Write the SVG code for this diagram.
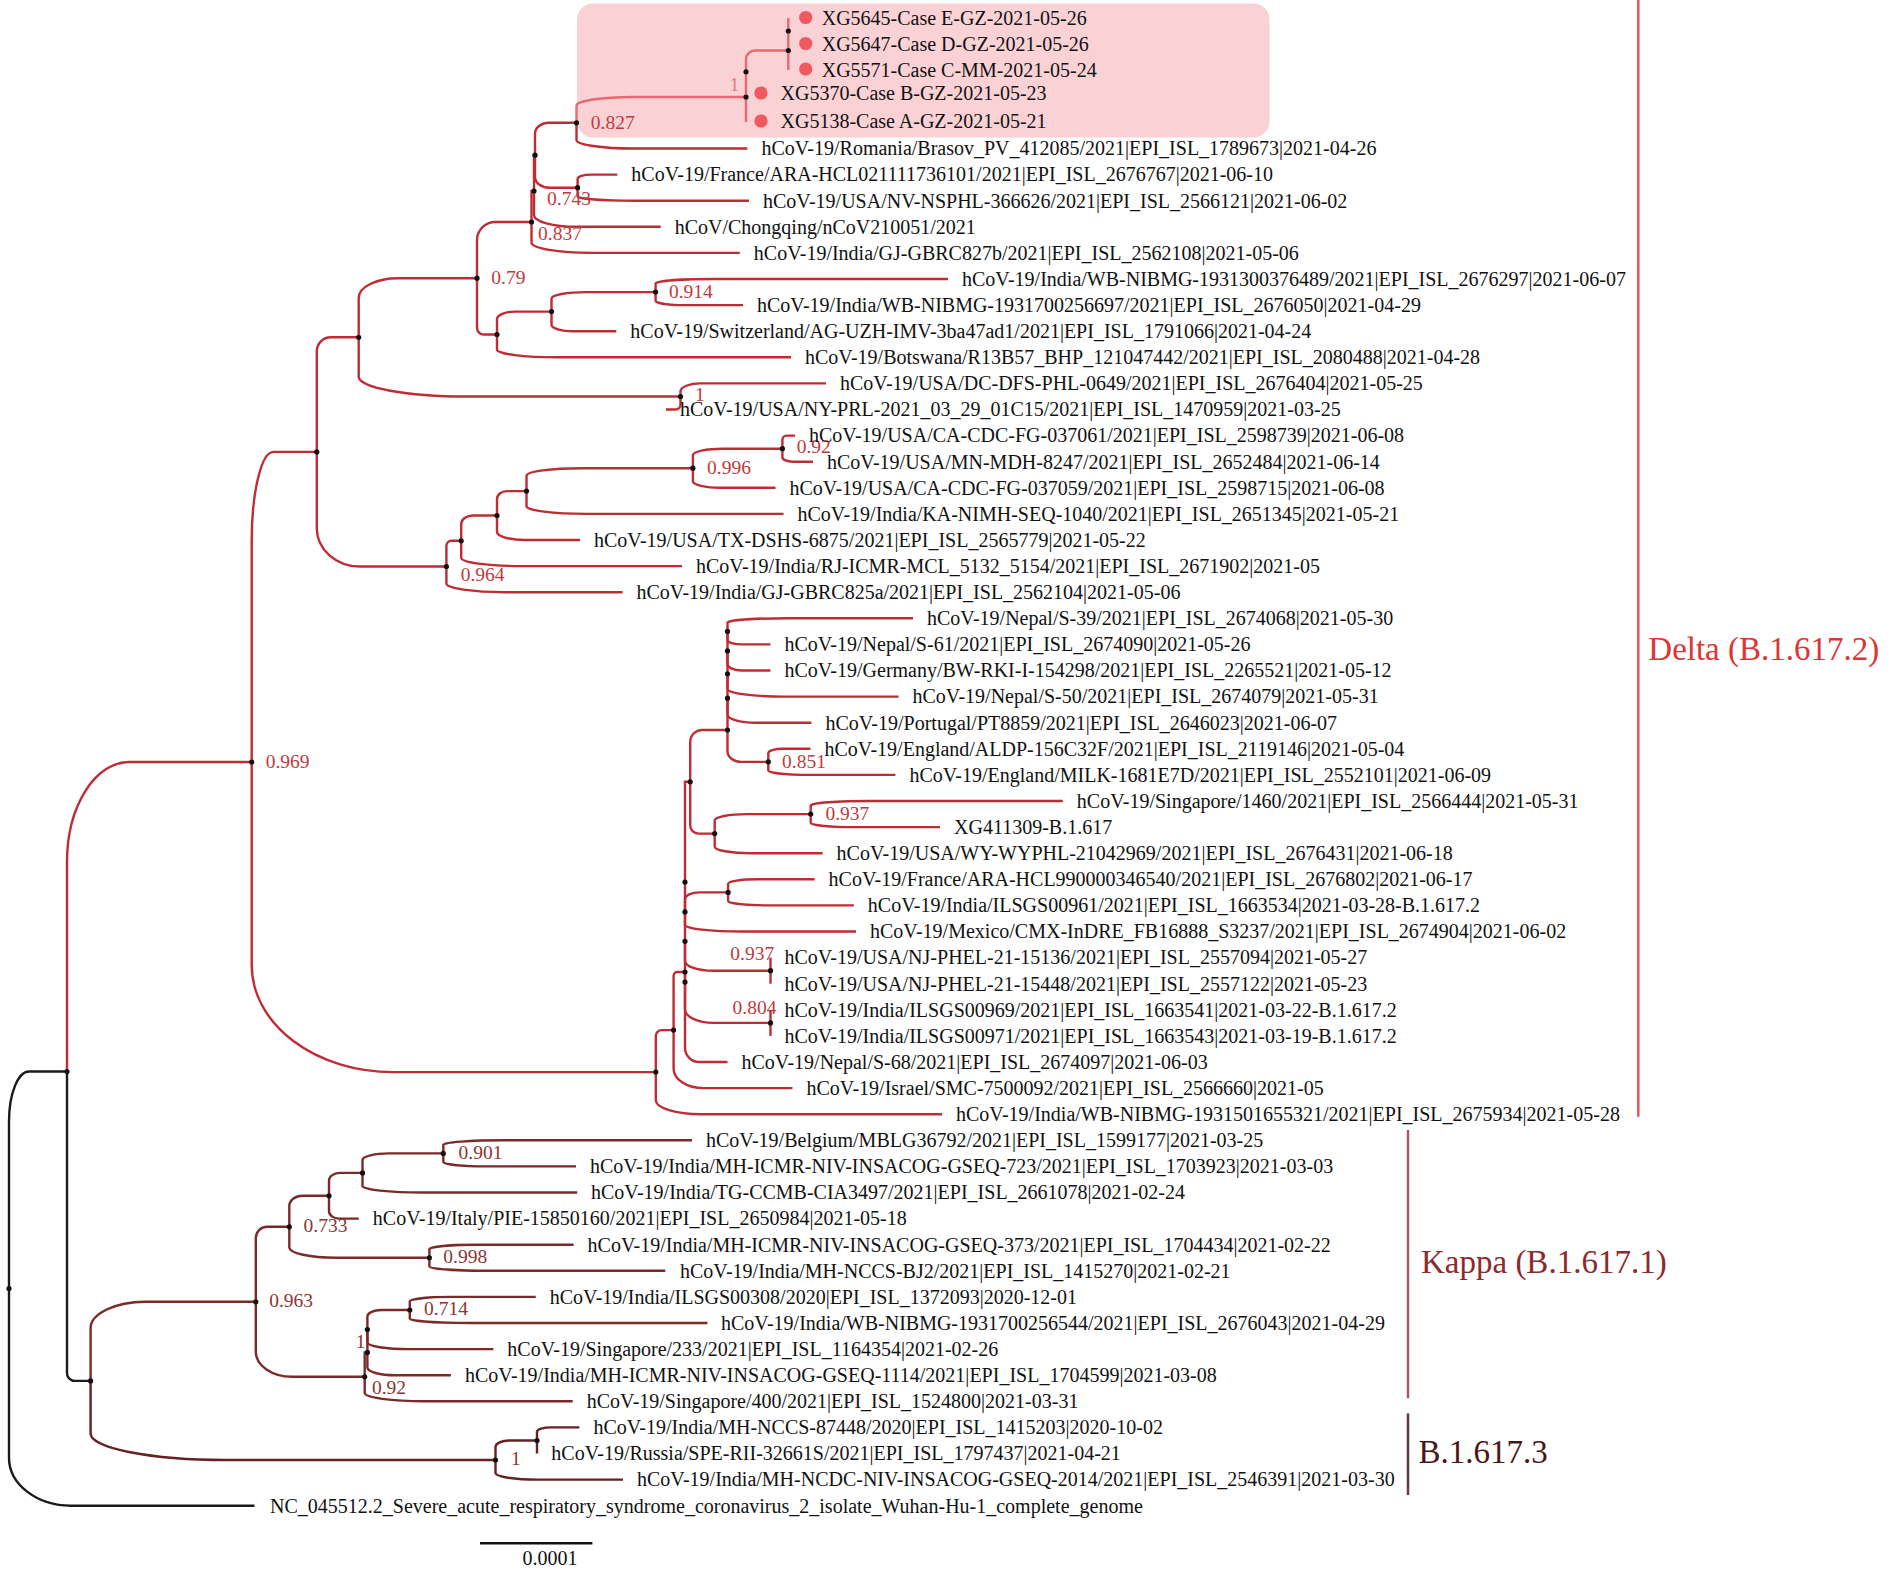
<svg xmlns="http://www.w3.org/2000/svg" width="1890" height="1571" viewBox="0 0 1890 1571">
<style>
text{font-family:"Liberation Serif","Times New Roman",serif}
.t{font-size:20px;fill:#111}
.bs{font-size:19.5px;fill:#c03a3d}
.bl{font-size:19.5px;fill:#e27a7f}
.bk{font-size:19.5px;fill:#8a3535}
.br{fill:none;stroke-width:2.4}
.d{stroke:#bf2c33}
.h{stroke:#ea6870}
.k{stroke:#7b2a2a}
.k3{stroke:#652222}
.r{stroke:#1a1a1a}
.nd{fill:#111}
.case{fill:#f05a5e}
.cl{font-size:33px}
</style>
<rect width="1890" height="1571" fill="#fff"/>
<g id="highlight"><rect x="577" y="3.5" width="692.5" height="134" rx="16" fill="#fad2d5"/></g>
<g id="connectors" class="br">
<g class="r">
<path d="M9 1288.6V1121.5A20 50 0 0 1 29 1071.5H67"/>
<path d="M9 1288.6V1457.7A62 48 0 0 0 71 1505.7H254.5"/>
<path d="M67 1071.5V1372.9A8 8 0 0 0 75 1380.9H90.6"/>
</g>
<g class="d">
<path d="M67 1071.5V862A62 100 0 0 1 129 762H251.7"/>
<path d="M251.7 762V540.9A21.7 89 0 0 1 273.4 451.9H316.8"/>
<path d="M251.7 762V965.1A141 107 0 0 0 392.7 1072.1H655.8"/>
<path d="M316.8 451.9V351.3A14 14 0 0 1 330.8 337.3H358.7"/>
<path d="M316.8 451.9V528.3A43.2 38.2 0 0 0 360 566.5H446.4"/>
<path d="M358.7 337.3V297.9A39.4 19.7 0 0 1 398.1 278.2H477"/>
<path d="M358.7 337.3V376.8A107.3 19.7 0 0 0 466 396.5H680.5"/>
<path d="M477 278.2V240.2A18.2 18.2 0 0 1 495.2 222H531.5"/>
<path d="M477 278.2V327.8A6.7 6.7 0 0 0 483.7 334.5H497"/>
<path d="M531.5 222V191H534"/>
<path d="M531.5 222V242.6A60 10.3 0 0 0 591.5 252.9H739.8"/>
<path d="M534 191V155.2H535"/>
<path d="M534 191V214.9A42.2 11.9 0 0 0 576.2 226.8H660.7"/>
<path d="M535 155.2V133.6A13.8 10.8 0 0 1 548.8 122.8H576.5"/>
<path d="M535 155.2V176.9A14.2 10.8 0 0 0 549.2 187.7H577.6"/>
<path d="M576.5 122.8V139.9A57 8.6 0 0 0 633.5 148.5H747.4"/>
<path d="M577.6 187.7V179A13.2 4.4 0 0 1 590.8 174.6H617.3"/>
<path d="M577.6 187.7V196.4A57.1 4.4 0 0 0 634.7 200.7H749"/>
<path d="M497 334.5V319.2A18.2 7.6 0 0 1 515.2 311.6H551.5"/>
<path d="M497 334.5V349.7A60 7.6 0 0 0 557 357.3H791"/>
<path d="M551.5 311.6V298.6A34.7 6.5 0 0 1 586.2 292.1H655.6"/>
<path d="M551.5 311.6V324.7A21.6 6.5 0 0 0 573.1 331.2H616.3"/>
<path d="M655.6 292.1V283.4A60 4.4 0 0 1 715.6 279H948"/>
<path d="M655.6 292.1V300.8A29.1 4.4 0 0 0 684.7 305.1H743"/>
<path d="M680.5 396.5V391.4A20 8 0 0 1 700.5 383.4H826"/>
<path d="M680.5 396.5V404.5A5 5 0 0 1 675.5 409.5H666"/>
<path d="M446.4 566.5V545.7A4.9 4.9 0 0 1 451.3 540.8H461.2"/>
<path d="M446.4 566.5V583.6A58.7 8.6 0 0 0 505.1 592.2H622.5"/>
<path d="M461.2 540.8V523.9A11.9 8.4 0 0 1 473.1 515.5H497"/>
<path d="M461.2 540.8V557.7A60 8.4 0 0 0 521.2 566.1H682"/>
<path d="M497 515.5V499.3A9.8 8.2 0 0 1 506.8 491.1H526.5"/>
<path d="M497 515.5V531.8A27.7 8.2 0 0 0 524.7 540H580"/>
<path d="M526.5 491.1V475.8A55.5 7.6 0 0 1 582 468.2H692.9"/>
<path d="M526.5 491.1V506.3A60 7.6 0 0 0 586.5 513.9H783.5"/>
<path d="M692.9 468.2V455.2A29.8 6.5 0 0 1 722.7 448.7H782.4"/>
<path d="M692.9 468.2V481.3A27.5 6.5 0 0 0 720.4 487.8H775.5"/>
<path d="M782.4 448.7V439.8A4.2 4.2 0 0 1 786.6 435.6H795"/>
<path d="M782.4 448.7V457.4A10.2 4.4 0 0 0 792.6 461.7H813"/>
<path d="M655.8 1072.1V1036A5.9 5.9 0 0 1 661.7 1030.1H673.6"/>
<path d="M655.8 1072.1V1100.2A45 14 0 0 0 700.8 1114.2H942"/>
<path d="M673.6 1030.1V975.8A3.8 3.8 0 0 1 677.4 972H685"/>
<path d="M673.6 1030.1V1068.8A30 19.3 0 0 0 703.6 1088.1H792.5"/>
<path d="M685 972V1047.8A14.2 14.2 0 0 0 699.2 1062H727.5"/>
<path d="M690.2 781.8H685V982.1"/>
<path d="M685 982.1V1009.3A28.5 13.6 0 0 0 713.5 1022.9H770.5"/>
<path d="M685 941.3V960.9A28.5 9.8 0 0 0 713.5 970.7H770.5"/>
<path d="M685 911.9V898.9A14.4 6.5 0 0 1 699.4 892.4H728.1"/>
<path d="M685 911.9V925A57 6.5 0 0 0 742 931.5H856"/>
<path d="M728.1 892.4V883.7A28.8 4.4 0 0 1 756.9 879.3H814.6"/>
<path d="M728.1 892.4V901.1A41.9 4.4 0 0 0 770 905.4H853.8"/>
<path d="M770.5 957.6V983.7"/>
<path d="M770.5 1009.8V1035.9"/>
<path d="M690.2 781.8V742A12 12 0 0 1 702.2 730H727.5"/>
<path d="M690.2 781.8V825.4A8.2 8.2 0 0 0 698.4 833.6H714.7"/>
<path d="M714.7 833.6V820.6A32 6.5 0 0 1 746.7 814.1H810.7"/>
<path d="M714.7 833.6V846.7A36 6.5 0 0 0 750.7 853.2H822.6"/>
<path d="M810.7 814.1V805.4A60 4.4 0 0 1 870.7 801H1062.8"/>
<path d="M810.7 814.1V822.8A43.1 4.4 0 0 0 853.8 827.1H940"/>
<path d="M727.5 631.4V730"/>
<path d="M727.5 730V751.3A13.6 10.6 0 0 0 741.1 761.9H768.3"/>
<path d="M727.5 698.2V714.5A28 8.2 0 0 0 755.5 722.7H811.4"/>
<path d="M727.5 673.8V689A57 7.6 0 0 0 784.5 696.6H898.5"/>
<path d="M727.5 650.9V664A14.3 6.5 0 0 0 741.8 670.5H770.4"/>
<path d="M727.5 631.4V622.7A60 4.4 0 0 1 787.5 618.3H913"/>
<path d="M727.5 631.4V640.1A14.3 4.4 0 0 0 741.8 644.4H770.4"/>
<path d="M768.3 761.9V753.2A14.1 4.4 0 0 1 782.4 748.8H810.5"/>
<path d="M768.3 761.9V770.6A42.4 4.4 0 0 0 810.7 774.9H895.4"/>
</g>
<g class="h">
<path d="M576.5 122.8V105.6A56.5 8.6 0 0 1 633 97H746"/>
<path d="M746 122V59.5A9 9 0 0 1 755 50.5H788.3"/>
<path d="M788.3 18V70"/>
</g>
<g class="k">
<path d="M90.6 1380.9V1328.2A55.1 26.4 0 0 1 145.7 1301.8H255.8"/>
<path d="M255.8 1301.8V1238A11.2 11.2 0 0 1 267 1226.8H289.3"/>
<path d="M255.8 1301.8V1351.8A36.3 25 0 0 0 292.1 1376.8H364.7"/>
<path d="M289.3 1226.8V1206.1A13.2 10.3 0 0 1 302.5 1195.8H329"/>
<path d="M289.3 1226.8V1247.5A46.7 10.3 0 0 0 336 1257.8H429.4"/>
<path d="M329 1195.8V1180.5A11.2 7.6 0 0 1 340.2 1172.9H362.5"/>
<path d="M329 1195.8V1211A9.9 7.6 0 0 0 338.9 1218.6H358.8"/>
<path d="M362.5 1172.9V1159.9A26.9 6.5 0 0 1 389.4 1153.4H443.3"/>
<path d="M362.5 1172.9V1186A60 6.5 0 0 0 422.5 1192.5H577.2"/>
<path d="M443.3 1153.4V1144.7A60 4.4 0 0 1 503.3 1140.3H692"/>
<path d="M443.3 1153.4V1162.1A44.2 4.4 0 0 0 487.5 1166.4H576"/>
<path d="M429.4 1257.8V1249.1A48.1 4.4 0 0 1 477.5 1244.7H573.6"/>
<path d="M429.4 1257.8V1266.5A60 4.4 0 0 0 489.4 1270.8H665.3"/>
<path d="M364.7 1376.8V1352.4H367.4V1329.5"/>
<path d="M364.7 1376.8V1393.1A60 8.2 0 0 0 424.7 1401.3H572.7"/>
<path d="M367.4 1352.4V1367.6A27.8 7.6 0 0 0 395.2 1375.2H450.9"/>
<path d="M367.4 1329.5V1316.5A14.1 6.5 0 0 1 381.5 1310H409.8"/>
<path d="M367.4 1329.5V1342.6A42 6.5 0 0 0 409.4 1349.1H493.3"/>
<path d="M409.8 1310V1301.3A42 4.4 0 0 1 451.8 1296.9H535.7"/>
<path d="M409.8 1310V1318.7A60 4.4 0 0 0 469.8 1323H707.4"/>
</g>
<g class="k3">
<path d="M90.6 1380.9V1433.6A135 26.4 0 0 0 225.6 1460H495.5"/>
<path d="M495.5 1460V1447A13.8 6.5 0 0 1 509.3 1440.5H537"/>
<path d="M495.5 1460V1473.1A42.5 6.5 0 0 0 538 1479.6H623"/>
<path d="M537 1440.5V1431.8A14.1 4.4 0 0 1 551.1 1427.4H579.4"/>
<path d="M537 1440.5V1453.5"/>
</g>
</g>
<g id="nodes">
<g id="n-root"><circle class="nd" cx="9" cy="1288.6" r="2.6"/></g>
<g id="n-top"><circle class="nd" cx="67" cy="1071.5" r="2.6"/></g>
<g id="n-delta"><circle class="nd" cx="251.7" cy="762" r="2.6"/><text class="bs" x="265.7" y="768">0.969</text></g>
<g id="n-b"><circle class="nd" cx="316.8" cy="451.9" r="2.6"/></g>
<g id="n-a"><circle class="nd" cx="358.7" cy="337.3" r="2.6"/></g>
<g id="n-079"><circle class="nd" cx="477" cy="278.2" r="2.6"/><text class="bs" x="491.3" y="284">0.79</text></g>
<g id="n-x3"><circle class="nd" cx="531.5" cy="222" r="2.6"/><text class="bs" x="538" y="240">0.837</text></g>
<g id="n-x2"><circle class="nd" cx="534" cy="191" r="2.6"/><text class="bs" x="547" y="205">0.743</text></g>
<g id="n-x1"><circle class="nd" cx="535" cy="155.2" r="2.6"/></g>
<g id="n-0827"><circle class="nd" cx="576.5" cy="122.8" r="2.6"/><text class="bs" x="590.8" y="129">0.827</text></g>
<g id="n-case1"><circle class="nd" cx="746" cy="97" r="2.6"/><text class="bl" x="729.5" y="91">1</text></g>
<g id="n-case1a"><circle class="nd" cx="746" cy="71.8" r="2.6"/></g>
<g id="n-cased"><circle class="nd" cx="788.3" cy="50.5" r="2.6"/></g>
<g id="n-casee"><circle class="nd" cx="788.3" cy="31" r="2.6"/></g>
<g id="n-frnv"><circle class="nd" cx="577.6" cy="187.7" r="2.6"/></g>
<g id="n-bw"><circle class="nd" cx="497" cy="334.5" r="2.6"/></g>
<g id="n-sw"><circle class="nd" cx="551.5" cy="311.6" r="2.6"/></g>
<g id="n-914"><circle class="nd" cx="655.6" cy="292.1" r="2.6"/><text class="bs" x="668.9" y="298">0.914</text></g>
<g id="n-dcny"><circle class="nd" cx="680.5" cy="396.5" r="2.6"/><text class="bs" x="695" y="401">1</text></g>
<g id="n-964"><circle class="nd" cx="446.4" cy="566.5" r="2.6"/><text class="bs" x="460.7" y="581">0.964</text></g>
<g id="n-rj"><circle class="nd" cx="461.2" cy="540.8" r="2.6"/></g>
<g id="n-tx"><circle class="nd" cx="497" cy="515.5" r="2.6"/></g>
<g id="n-ka"><circle class="nd" cx="526.5" cy="491.1" r="2.6"/></g>
<g id="n-996"><circle class="nd" cx="692.9" cy="468.2" r="2.6"/><text class="bs" x="707" y="474">0.996</text></g>
<g id="n-092"><circle class="nd" cx="782.4" cy="448.7" r="2.6"/><text class="bs" x="796.7" y="453">0.92</text></g>
<g id="n-w"><circle class="nd" cx="655.8" cy="1072.1" r="2.6"/></g>
<g id="n-v"><circle class="nd" cx="673.6" cy="1030.1" r="2.6"/></g>
<g id="n-r"><circle class="nd" cx="685" cy="972" r="2.6"/></g>
<g id="n-q4"><circle class="nd" cx="685" cy="882" r="2.6"/></g>
<g id="n-q3"><circle class="nd" cx="685" cy="982.1" r="2.6"/></g>
<g id="n-q2"><circle class="nd" cx="685" cy="941.3" r="2.6"/></g>
<g id="n-q1"><circle class="nd" cx="685" cy="911.9" r="2.6"/></g>
<g id="n-frin"><circle class="nd" cx="728.1" cy="892.4" r="2.6"/></g>
<g id="n-nj"><circle class="nd" cx="770.5" cy="970.7" r="2.6"/><text class="bs" x="730.3" y="960">0.937</text></g>
<g id="n-804"><circle class="nd" cx="770.5" cy="1022.9" r="2.6"/><text class="bs" x="732.6" y="1014">0.804</text></g>
<g id="n-u"><circle class="nd" cx="690.2" cy="781.8" r="2.6"/></g>
<g id="n-t"><circle class="nd" cx="714.7" cy="833.6" r="2.6"/></g>
<g id="n-sg"><circle class="nd" cx="810.7" cy="814.1" r="2.6"/><text class="bs" x="825.4" y="820">0.937</text></g>
<g id="n-ce"><circle class="nd" cx="727.5" cy="730" r="2.6"/></g>
<g id="n-cd"><circle class="nd" cx="727.5" cy="698.2" r="2.6"/></g>
<g id="n-cc"><circle class="nd" cx="727.5" cy="673.8" r="2.6"/></g>
<g id="n-cb"><circle class="nd" cx="727.5" cy="650.9" r="2.6"/></g>
<g id="n-ca"><circle class="nd" cx="727.5" cy="631.4" r="2.6"/></g>
<g id="n-eng"><circle class="nd" cx="768.3" cy="761.9" r="2.6"/><text class="bs" x="782" y="768">0.851</text></g>
<g id="n-k0"><circle class="nd" cx="90.6" cy="1380.9" r="2.6"/></g>
<g id="n-963"><circle class="nd" cx="255.8" cy="1301.8" r="2.6"/><text class="bk" x="269.2" y="1307">0.963</text></g>
<g id="n-733"><circle class="nd" cx="289.3" cy="1226.8" r="2.6"/><text class="bk" x="303.6" y="1232">0.733</text></g>
<g id="n-it"><circle class="nd" cx="329" cy="1195.8" r="2.6"/></g>
<g id="n-tg"><circle class="nd" cx="362.5" cy="1172.9" r="2.6"/></g>
<g id="n-901"><circle class="nd" cx="443.3" cy="1153.4" r="2.6"/><text class="bk" x="458.5" y="1159">0.901</text></g>
<g id="n-998"><circle class="nd" cx="429.4" cy="1257.8" r="2.6"/><text class="bk" x="443.3" y="1263">0.998</text></g>
<g id="n-092k"><circle class="nd" cx="364.7" cy="1376.8" r="2.6"/><text class="bk" x="371.9" y="1394">0.92</text></g>
<g id="n-1114"><circle class="nd" cx="367.4" cy="1352.4" r="2.6"/></g>
<g id="n-s233"><circle class="nd" cx="367.4" cy="1329.5" r="2.6"/><text class="bk" x="355.8" y="1348">1</text></g>
<g id="n-714"><circle class="nd" cx="409.8" cy="1310" r="2.6"/><text class="bk" x="424" y="1315">0.714</text></g>
<g id="n-b3"><circle class="nd" cx="495.5" cy="1460" r="2.6"/><text class="bk" x="511" y="1465">1</text></g>
<g id="n-ru"><circle class="nd" cx="537" cy="1440.5" r="2.6"/></g>
</g>
<g id="leaves" class="t">
<g id="leaf-XG5645"><circle class="case" cx="805.7" cy="17.5" r="6.6"/><text class="t" x="821.7" y="24.8">XG5645-Case E-GZ-2021-05-26</text></g>
<g id="leaf-XG5647"><circle class="case" cx="805.7" cy="43.5" r="6.6"/><text class="t" x="821.7" y="50.8">XG5647-Case D-GZ-2021-05-26</text></g>
<g id="leaf-XG5571"><circle class="case" cx="805.7" cy="69" r="6.6"/><text class="t" x="821.7" y="76.8">XG5571-Case C-MM-2021-05-24</text></g>
<g id="leaf-XG5370"><circle class="case" cx="761" cy="93" r="6.6"/><text class="t" x="780.5" y="99.8">XG5370-Case B-GZ-2021-05-23</text></g>
<g id="leaf-XG5138"><circle class="case" cx="761" cy="121" r="6.6"/><text class="t" x="780.5" y="128.3">XG5138-Case A-GZ-2021-05-21</text></g>
<g id="leaf-06"><text class="t" x="761.4" y="155.3">hCoV-19/Romania/Brasov_PV_412085/2021|EPI_ISL_1789673|2021-04-26</text></g>
<g id="leaf-07"><text class="t" x="631.3" y="181.4">hCoV-19/France/ARA-HCL021111736101/2021|EPI_ISL_2676767|2021-06-10</text></g>
<g id="leaf-08"><text class="t" x="763" y="207.5">hCoV-19/USA/NV-NSPHL-366626/2021|EPI_ISL_2566121|2021-06-02</text></g>
<g id="leaf-09"><text class="t" x="674.7" y="233.6">hCoV/Chongqing/nCoV210051/2021</text></g>
<g id="leaf-10"><text class="t" x="753.8" y="259.7">hCoV-19/India/GJ-GBRC827b/2021|EPI_ISL_2562108|2021-05-06</text></g>
<g id="leaf-11"><text class="t" x="962" y="285.8">hCoV-19/India/WB-NIBMG-1931300376489/2021|EPI_ISL_2676297|2021-06-07</text></g>
<g id="leaf-12"><text class="t" x="757" y="311.9">hCoV-19/India/WB-NIBMG-1931700256697/2021|EPI_ISL_2676050|2021-04-29</text></g>
<g id="leaf-13"><text class="t" x="630.3" y="338">hCoV-19/Switzerland/AG-UZH-IMV-3ba47ad1/2021|EPI_ISL_1791066|2021-04-24</text></g>
<g id="leaf-14"><text class="t" x="805" y="364.1">hCoV-19/Botswana/R13B57_BHP_121047442/2021|EPI_ISL_2080488|2021-04-28</text></g>
<g id="leaf-15"><text class="t" x="840" y="390.2">hCoV-19/USA/DC-DFS-PHL-0649/2021|EPI_ISL_2676404|2021-05-25</text></g>
<g id="leaf-16"><text class="t" x="680" y="416.3">hCoV-19/USA/NY-PRL-2021_03_29_01C15/2021|EPI_ISL_1470959|2021-03-25</text></g>
<g id="leaf-17"><text class="t" x="809" y="442.4">hCoV-19/USA/CA-CDC-FG-037061/2021|EPI_ISL_2598739|2021-06-08</text></g>
<g id="leaf-18"><text class="t" x="827" y="468.5">hCoV-19/USA/MN-MDH-8247/2021|EPI_ISL_2652484|2021-06-14</text></g>
<g id="leaf-19"><text class="t" x="789.5" y="494.6">hCoV-19/USA/CA-CDC-FG-037059/2021|EPI_ISL_2598715|2021-06-08</text></g>
<g id="leaf-20"><text class="t" x="797.5" y="520.7">hCoV-19/India/KA-NIMH-SEQ-1040/2021|EPI_ISL_2651345|2021-05-21</text></g>
<g id="leaf-21"><text class="t" x="594" y="546.8">hCoV-19/USA/TX-DSHS-6875/2021|EPI_ISL_2565779|2021-05-22</text></g>
<g id="leaf-22"><text class="t" x="696" y="572.9">hCoV-19/India/RJ-ICMR-MCL_5132_5154/2021|EPI_ISL_2671902|2021-05</text></g>
<g id="leaf-23"><text class="t" x="636.5" y="599">hCoV-19/India/GJ-GBRC825a/2021|EPI_ISL_2562104|2021-05-06</text></g>
<g id="leaf-24"><text class="t" x="927" y="625.1">hCoV-19/Nepal/S-39/2021|EPI_ISL_2674068|2021-05-30</text></g>
<g id="leaf-25"><text class="t" x="784.4" y="651.2">hCoV-19/Nepal/S-61/2021|EPI_ISL_2674090|2021-05-26</text></g>
<g id="leaf-26"><text class="t" x="784.4" y="677.3">hCoV-19/Germany/BW-RKI-I-154298/2021|EPI_ISL_2265521|2021-05-12</text></g>
<g id="leaf-27"><text class="t" x="912.5" y="703.4">hCoV-19/Nepal/S-50/2021|EPI_ISL_2674079|2021-05-31</text></g>
<g id="leaf-28"><text class="t" x="825.4" y="729.5">hCoV-19/Portugal/PT8859/2021|EPI_ISL_2646023|2021-06-07</text></g>
<g id="leaf-29"><text class="t" x="824.5" y="755.6">hCoV-19/England/ALDP-156C32F/2021|EPI_ISL_2119146|2021-05-04</text></g>
<g id="leaf-30"><text class="t" x="909.4" y="781.7">hCoV-19/England/MILK-1681E7D/2021|EPI_ISL_2552101|2021-06-09</text></g>
<g id="leaf-31"><text class="t" x="1076.8" y="807.8">hCoV-19/Singapore/1460/2021|EPI_ISL_2566444|2021-05-31</text></g>
<g id="leaf-32"><text class="t" x="954" y="833.9">XG411309-B.1.617</text></g>
<g id="leaf-33"><text class="t" x="836.6" y="860">hCoV-19/USA/WY-WYPHL-21042969/2021|EPI_ISL_2676431|2021-06-18</text></g>
<g id="leaf-34"><text class="t" x="828.6" y="886.1">hCoV-19/France/ARA-HCL990000346540/2021|EPI_ISL_2676802|2021-06-17</text></g>
<g id="leaf-35"><text class="t" x="867.8" y="912.2">hCoV-19/India/ILSGS00961/2021|EPI_ISL_1663534|2021-03-28-B.1.617.2</text></g>
<g id="leaf-36"><text class="t" x="870" y="938.3">hCoV-19/Mexico/CMX-InDRE_FB16888_S3237/2021|EPI_ISL_2674904|2021-06-02</text></g>
<g id="leaf-37"><text class="t" x="784.4" y="964.4">hCoV-19/USA/NJ-PHEL-21-15136/2021|EPI_ISL_2557094|2021-05-27</text></g>
<g id="leaf-38"><text class="t" x="784.4" y="990.5">hCoV-19/USA/NJ-PHEL-21-15448/2021|EPI_ISL_2557122|2021-05-23</text></g>
<g id="leaf-39"><text class="t" x="784.4" y="1016.6">hCoV-19/India/ILSGS00969/2021|EPI_ISL_1663541|2021-03-22-B.1.617.2</text></g>
<g id="leaf-40"><text class="t" x="784.4" y="1042.7">hCoV-19/India/ILSGS00971/2021|EPI_ISL_1663543|2021-03-19-B.1.617.2</text></g>
<g id="leaf-41"><text class="t" x="741.5" y="1068.8">hCoV-19/Nepal/S-68/2021|EPI_ISL_2674097|2021-06-03</text></g>
<g id="leaf-42"><text class="t" x="806.5" y="1094.9">hCoV-19/Israel/SMC-7500092/2021|EPI_ISL_2566660|2021-05</text></g>
<g id="leaf-43"><text class="t" x="956" y="1121">hCoV-19/India/WB-NIBMG-1931501655321/2021|EPI_ISL_2675934|2021-05-28</text></g>
<g id="leaf-44"><text class="t" x="706" y="1147.1">hCoV-19/Belgium/MBLG36792/2021|EPI_ISL_1599177|2021-03-25</text></g>
<g id="leaf-45"><text class="t" x="590" y="1173.2">hCoV-19/India/MH-ICMR-NIV-INSACOG-GSEQ-723/2021|EPI_ISL_1703923|2021-03-03</text></g>
<g id="leaf-46"><text class="t" x="591" y="1199.3">hCoV-19/India/TG-CCMB-CIA3497/2021|EPI_ISL_2661078|2021-02-24</text></g>
<g id="leaf-47"><text class="t" x="372.8" y="1225.4">hCoV-19/Italy/PIE-15850160/2021|EPI_ISL_2650984|2021-05-18</text></g>
<g id="leaf-48"><text class="t" x="587.6" y="1251.5">hCoV-19/India/MH-ICMR-NIV-INSACOG-GSEQ-373/2021|EPI_ISL_1704434|2021-02-22</text></g>
<g id="leaf-49"><text class="t" x="680" y="1277.6">hCoV-19/India/MH-NCCS-BJ2/2021|EPI_ISL_1415270|2021-02-21</text></g>
<g id="leaf-50"><text class="t" x="549.7" y="1303.7">hCoV-19/India/ILSGS00308/2020|EPI_ISL_1372093|2020-12-01</text></g>
<g id="leaf-51"><text class="t" x="721" y="1329.8">hCoV-19/India/WB-NIBMG-1931700256544/2021|EPI_ISL_2676043|2021-04-29</text></g>
<g id="leaf-52"><text class="t" x="507.3" y="1355.9">hCoV-19/Singapore/233/2021|EPI_ISL_1164354|2021-02-26</text></g>
<g id="leaf-53"><text class="t" x="465" y="1382">hCoV-19/India/MH-ICMR-NIV-INSACOG-GSEQ-1114/2021|EPI_ISL_1704599|2021-03-08</text></g>
<g id="leaf-54"><text class="t" x="586.7" y="1408.1">hCoV-19/Singapore/400/2021|EPI_ISL_1524800|2021-03-31</text></g>
<g id="leaf-55"><text class="t" x="593.4" y="1434.2">hCoV-19/India/MH-NCCS-87448/2020|EPI_ISL_1415203|2020-10-02</text></g>
<g id="leaf-56"><text class="t" x="551.3" y="1460.3">hCoV-19/Russia/SPE-RII-32661S/2021|EPI_ISL_1797437|2021-04-21</text></g>
<g id="leaf-57"><text class="t" x="637" y="1486.4">hCoV-19/India/MH-NCDC-NIV-INSACOG-GSEQ-2014/2021|EPI_ISL_2546391|2021-03-30</text></g>
<g id="leaf-58"><text class="t" x="270" y="1512.5">NC_045512.2_Severe_acute_respiratory_syndrome_coronavirus_2_isolate_Wuhan-Hu-1_complete_genome</text></g>
</g>
<g id="clades">
<g id="clade-delta"><line x1="1638.3" y1="0" x2="1638.3" y2="1116.7" stroke="#e0575c" stroke-width="2.5"/><text class="cl" x="1648.3" y="660" fill="#dc3535">Delta (B.1.617.2)</text></g>
<g id="clade-kappa"><line x1="1408" y1="1130" x2="1408" y2="1398.3" stroke="#a65b60" stroke-width="2.5"/><text class="cl" x="1421" y="1273" fill="#8b2b2e">Kappa (B.1.617.1)</text></g>
<g id="clade-b3"><line x1="1408" y1="1413.3" x2="1408" y2="1495" stroke="#5e3a3c" stroke-width="2.5"/><text class="cl" x="1418.5" y="1463" fill="#4a1518">B.1.617.3</text></g>
</g>
<g id="scale"><line x1="480" y1="1543.3" x2="592.4" y2="1543.3" stroke="#111" stroke-width="2.6"/><text class="t" x="550" y="1565" text-anchor="middle">0.0001</text></g>
</svg>
